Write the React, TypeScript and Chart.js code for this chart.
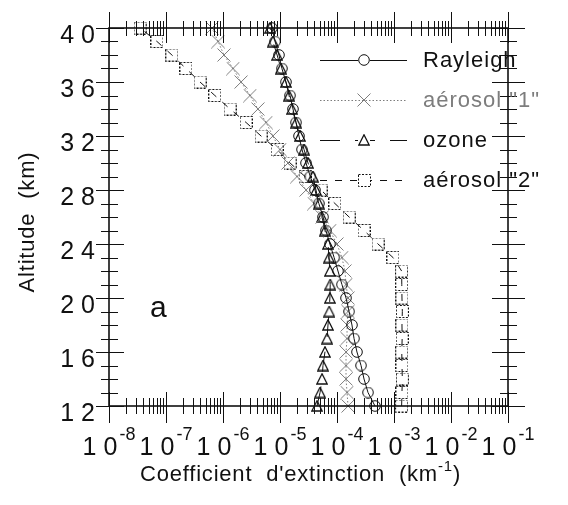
import React, { useEffect, useRef } from 'react';
import { Chart, registerables } from 'chart.js';

Chart.register(...registerables);

const W = 568;
const H = 505;
const INK = '#111111';
const GREY = '#7d7d7d';
const FONT = '"Liberation Sans", Arial, Helvetica, sans-serif';

// Altitudes (km), one sample per kilometre
const altitudes = [12, 13, 14, 15, 16, 17, 18, 19, 20, 21, 22, 23, 24, 25, 26, 27, 28, 29, 30, 31, 32, 33, 34, 35, 36, 37, 38, 39, 40];

// Extinction coefficients (km^-1), same order as altitudes
const rayleigh = [4.64e-4, 3.5e-4, 2.98e-4, 2.64e-4, 2.24e-4, 1.99e-4, 1.83e-4, 1.63e-4, 1.44e-4, 1.22e-4, 1.04e-4, 8.9e-5, 7.5e-5, 6.4e-5, 5.7e-5, 4.8e-5, 4.1e-5, 3.4e-5, 2.86e-5, 2.43e-5, 2.15e-5, 1.91e-5, 1.69e-5, 1.5e-5, 1.27e-5, 1.08e-5, 9.6e-6, 8.2e-6, 7.2e-6];
const aerosol1 = [1.56e-4, 1.5e-4, 1.44e-4, 1.44e-4, 1.44e-4, 1.5e-4, 1.5e-4, 1.56e-4, 1.56e-4, 1.44e-4, 1.38e-4, 1.22e-4, 1.0e-4, 7.5e-5, 5.5e-5, 3.95e-5, 2.86e-5, 1.99e-5, 1.38e-5, 1.0e-5, 7.5e-6, 5.7e-6, 4.1e-6, 2.98e-6, 2.07e-6, 1.5e-6, 1.04e-6, 8.2e-7, 6.4e-7];
const ozone = [4.46e-5, 5.04e-5, 5.46e-5, 5.68e-5, 6.15e-5, 6.68e-5, 6.95e-5, 7.3e-5, 7.5e-5, 7.6e-5, 7.5e-5, 7.24e-5, 6.95e-5, 6.15e-5, 5.46e-5, 4.83e-5, 4.28e-5, 3.79e-5, 3.1e-5, 2.64e-5, 2.24e-5, 1.91e-5, 1.63e-5, 1.44e-5, 1.27e-5, 1.04e-5, 8.9e-6, 7.5e-6, 6.7e-6];
const aerosol2 = [1.36e-3, 1.38e-3, 1.4e-3, 1.38e-3, 1.37e-3, 1.39e-3, 1.38e-3, 1.4e-3, 1.38e-3, 1.37e-3, 1.36e-3, 9.6e-4, 5.24e-4, 2.98e-4, 1.63e-4, 9.2e-5, 5.24e-5, 2.75e-5, 1.5e-5, 8.9e-6, 4.65e-6, 2.54e-6, 1.33e-6, 7.2e-7, 3.95e-7, 2.24e-7, 1.27e-7, 6.95e-8, 3.5e-8];

const seriesNames = ['Rayleigh', 'aérosol "1"', 'ozone', 'aérosol "2"'];

// Axis ticks
const xExponents = [-8, -7, -6, -5, -4, -3, -2, -1];
const yTickValues = [12, 16, 20, 24, 28, 32, 36, 40];
const yMinorStep = 1;

const xTitle = "Coefficient  d'extinction  (km";
const xTitleSup = '-1';
const xTitleEnd = ')';
const yTitle = 'Altitude  (km)';
const panelTag = 'a';

function makeMarker(kind: string, color: string): HTMLCanvasElement {
  const s = kind === 'cross' ? 14 : kind === 'square' ? 13 : 12;
  const c = document.createElement('canvas');
  c.width = s;
  c.height = s;
  const g = c.getContext('2d') as CanvasRenderingContext2D;
  g.strokeStyle = color;
  g.lineWidth = 1;
  if (kind === 'circle') {
    g.beginPath();
    g.arc(s / 2, s / 2, 5.3, 0, Math.PI * 2);
    g.stroke();
  } else if (kind === 'triangle') {
    g.lineWidth = 1.3;
    g.beginPath();
    g.moveTo(s / 2, 0.8);
    g.lineTo(s - 0.8, s - 1);
    g.lineTo(0.8, s - 1);
    g.closePath();
    g.stroke();
  } else if (kind === 'cross') {
    g.beginPath();
    g.moveTo(0.5, 0.5);
    g.lineTo(s - 0.5, s - 0.5);
    g.moveTo(s - 0.5, 0.5);
    g.lineTo(0.5, s - 0.5);
    g.stroke();
  } else {
    g.setLineDash([2, 1.5]);
    g.strokeRect(0.5, 0.5, s - 1, s - 1);
  }
  return c;
}

function pts(values: number[]) {
  return values.map((v, i) => ({ x: v, y: altitudes[i] }));
}

export default function App() {
  const ref = useRef<HTMLCanvasElement | null>(null);

  useEffect(() => {
    const canvas = ref.current;
    if (!canvas) return;

    const markers = [
      makeMarker('circle', INK),
      makeMarker('cross', GREY),
      makeMarker('triangle', INK),
      makeMarker('square', INK),
    ];
    const colors = [INK, GREY, INK, INK];
    const dashes = [[], [1.5, 2], [20, 15], [7, 8]];
    const seriesValues = [rayleigh, aerosol1, ozone, aerosol2];

    const frame = {
      id: 'frame',
      afterDatasetsDraw(chart: any) {
        const ctx: CanvasRenderingContext2D = chart.ctx;
        const { left, right, top, bottom } = chart.chartArea;
        const xs = chart.scales.x;
        const ys = chart.scales.y;
        const snap = (v: number) => Math.round(v) + 0.5;
        const seg = (x1: number, y1: number, x2: number, y2: number) => {
          ctx.beginPath();
          ctx.moveTo(x1, y1);
          ctx.lineTo(x2, y2);
          ctx.stroke();
        };

        ctx.save();
        ctx.strokeStyle = INK;
        ctx.lineWidth = 1.6;
        ctx.strokeRect(left, top, right - left, bottom - top);

        // logarithmic ticks, top and bottom
        ctx.lineWidth = 1;
        const last = xExponents[xExponents.length - 1];
        xExponents.forEach((e) => {
          const px = snap(xs.getPixelForValue(Math.pow(10, e)));
          seg(px, bottom - 14, px, bottom + 17);
          seg(px, top - 16, px, top + 15);
          if (e < last) {
            for (let m = 2; m <= 9; m++) {
              const p = snap(xs.getPixelForValue(m * Math.pow(10, e)));
              seg(p, bottom - 8, p, bottom + 8);
              seg(p, top - 7, p, top + 8);
            }
          }
        });

        // altitude ticks, left and right
        const y0 = yTickValues[0];
        const y1 = yTickValues[yTickValues.length - 1];
        for (let v = y0; v <= y1; v += yMinorStep) {
          const py = snap(ys.getPixelForValue(v));
          if (yTickValues.includes(v)) {
            seg(left - 13, py, left + 15, py);
            seg(right - 16, py, right + 17, py);
          } else {
            seg(left - 8, py, left + 9, py);
            seg(right - 8, py, right + 9, py);
          }
        }

        // tick labels
        ctx.fillStyle = INK;
        ctx.textBaseline = 'alphabetic';
        (ctx as any).letterSpacing = '7px';
        ctx.font = `25px ${FONT}`;
        ctx.textAlign = 'right';
        yTickValues.forEach((v) => {
          const py = ys.getPixelForValue(v);
          ctx.fillText(String(v), left - 7, py + 15);
        });

        // decade labels: "10" with a raised exponent, the pair centred on its tick
        ctx.textAlign = 'left';
        xExponents.forEach((e) => {
          const px = xs.getPixelForValue(Math.pow(10, e));
          (ctx as any).letterSpacing = '7px';
          ctx.font = `25px ${FONT}`;
          const wBase = ctx.measureText('10').width - 7;
          (ctx as any).letterSpacing = '0px';
          ctx.font = `18px ${FONT}`;
          const sup = String(e);
          const wSup = ctx.measureText(sup).width;
          const x0 = px - (wBase + 2 + wSup) / 2;
          (ctx as any).letterSpacing = '7px';
          ctx.font = `25px ${FONT}`;
          ctx.fillText('10', x0, bottom + 49);
          (ctx as any).letterSpacing = '0px';
          ctx.font = `18px ${FONT}`;
          ctx.fillText(sup, x0 + wBase + 2, bottom + 34);
        });

        // axis titles
        (ctx as any).letterSpacing = '0.8px';
        ctx.font = `22px ${FONT}`;
        const w1 = ctx.measureText(xTitle).width;
        const w3 = ctx.measureText(xTitleEnd).width;
        ctx.font = `15px ${FONT}`;
        const w2 = ctx.measureText(xTitleSup).width;
        const cx = (left + right) / 2 - 8;
        let tx = cx - (w1 + w2 + w3) / 2;
        const ty = bottom + 75;
        ctx.textAlign = 'left';
        ctx.font = `22px ${FONT}`;
        ctx.fillText(xTitle, tx, ty);
        tx += w1;
        ctx.font = `15px ${FONT}`;
        ctx.fillText(xTitleSup, tx, ty - 10);
        tx += w2;
        ctx.font = `22px ${FONT}`;
        ctx.fillText(xTitleEnd, tx, ty);

        ctx.save();
        ctx.translate(34, (top + bottom) / 2 + 5);
        ctx.rotate(-Math.PI / 2);
        ctx.textAlign = 'center';
        ctx.fillText(yTitle, 0, 0);
        ctx.restore();

        // panel tag
        (ctx as any).letterSpacing = '0px';
        ctx.font = `30px ${FONT}`;
        ctx.textAlign = 'left';
        ctx.fillText(panelTag, left + 41, ys.getPixelForValue(18.6));

        // legend
        const lx0 = 320;
        const lx1 = 407;
        const lm = 364;
        ctx.font = `22px ${FONT}`;
        (ctx as any).letterSpacing = '1px';
        ctx.textBaseline = 'middle';
        seriesNames.forEach((name, i) => {
          const ly = 60 + i * 40;
          ctx.strokeStyle = colors[i];
          ctx.lineWidth = 1;
          ctx.setLineDash(dashes[i]);
          seg(lx0, snap(ly), lx1, snap(ly));
          ctx.setLineDash([]);
          const mk = markers[i];
          ctx.fillStyle = '#ffffff';
          if (i !== 1) ctx.fillRect(lm - mk.width / 2, ly - mk.height / 2, mk.width, mk.height);
          ctx.drawImage(mk, Math.round(lm - mk.width / 2), Math.round(ly - mk.height / 2));
          ctx.fillStyle = colors[i];
          ctx.textAlign = 'left';
          ctx.fillText(name, 423, ly + 1);
        });
        ctx.restore();
      },
    };

    const chart = new Chart(canvas, {
      type: 'scatter',
      data: {
        datasets: seriesNames.map((name, i) => ({
          label: name,
          data: pts(seriesValues[i]),
          showLine: true,
          borderColor: colors[i],
          borderWidth: 1,
          borderDash: dashes[i],
          pointStyle: markers[i] as any,
          pointRadius: 6,
          tension: 0,
          clip: false as any,
        })),
      },
      options: {
        animation: false,
        responsive: false,
        devicePixelRatio: 1,
        events: [],
        layout: { padding: { left: 109, right: 60, top: 28, bottom: 99 } },
        plugins: { legend: { display: false }, tooltip: { enabled: false } },
        scales: {
          x: { type: 'logarithmic', min: 1e-8, max: 1e-1, display: false },
          y: { type: 'linear', min: 12, max: 40, display: false },
        },
      },
      plugins: [frame],
    });

    return () => chart.destroy();
  }, []);

  return (
    <div style={{ position: 'absolute', left: 0, top: 0, width: W, height: H, background: '#ffffff' }}>
      <canvas ref={ref} width={W} height={H} style={{ display: 'block', width: W, height: H }} />
    </div>
  );
}
